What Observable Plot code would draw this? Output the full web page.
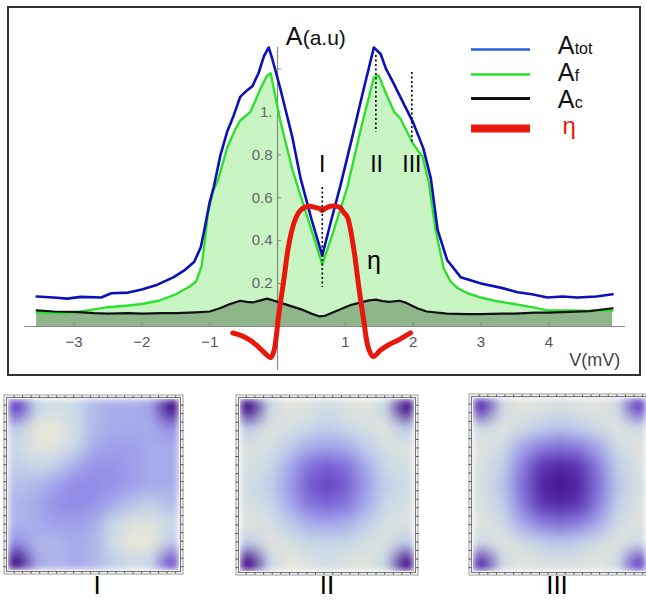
<!DOCTYPE html>
<html><head><meta charset="utf-8">
<script src="https://cdn.jsdelivr.net/npm/d3@7"></script>
<script src="https://cdn.jsdelivr.net/npm/@observablehq/plot@0.6"></script>
<style>
body{margin:0;background:#fff;}
#root{position:relative;width:646px;height:601px;overflow:hidden;font-family:"Liberation Sans",Arial,sans-serif;background:#fff;}
#box{position:absolute;left:7px;top:6px;width:634px;height:370px;border:2px solid #333;box-sizing:border-box;}
.abs{position:absolute;}
.lbl{position:absolute;font-size:26px;line-height:24px;height:24px;color:#000;transform:translateX(-50%);white-space:nowrap;}
</style></head><body><div id="root"><div id="box"></div></div>
<script>
// ---------- Top chart data ----------
const vTot = [-3.55,-3.3,-3.1,-2.9,-2.6,-2.45,-2.2,-2.0,-1.77,-1.53,-1.38,-1.23,-1.13,-1.06,-1.0,-0.94,-0.84,-0.74,-0.65,-0.55,-0.45,-0.37,-0.28,-0.2,-0.13,-0.08,0.04,0.22,0.34,0.5,0.66,0.78,0.93,1.1,1.25,1.42,1.52,1.6,1.7,1.81,2.0,2.15,2.26,2.36,2.5,2.7,3.0,3.3,3.54,3.75,3.98,4.2,4.42,4.7,4.94];
const aTot = [0.14,0.135,0.13,0.138,0.135,0.155,0.158,0.172,0.195,0.23,0.26,0.30,0.37,0.48,0.58,0.65,0.8,0.91,0.98,1.07,1.10,1.12,1.18,1.26,1.30,1.25,1.11,0.88,0.69,0.50,0.33,0.48,0.66,0.88,1.08,1.30,1.27,1.20,1.14,1.07,0.95,0.83,0.69,0.45,0.31,0.23,0.20,0.18,0.16,0.15,0.135,0.14,0.135,0.14,0.15];

const vF = [-3.55,-3.2,-3.0,-2.8,-2.5,-2.2,-2.0,-1.75,-1.5,-1.3,-1.2,-1.12,-1.07,-1.03,-0.95,-0.87,-0.74,-0.62,-0.55,-0.4,-0.33,-0.25,-0.15,-0.1,-0.05,0.04,0.22,0.4,0.55,0.66,0.8,1.03,1.22,1.42,1.49,1.62,1.72,1.81,2.0,2.14,2.23,2.33,2.45,2.55,2.65,2.8,3.0,3.2,3.48,3.75,3.98,4.3,4.6,4.94];
const aF = [0.065,0.063,0.065,0.075,0.09,0.098,0.105,0.12,0.15,0.185,0.21,0.28,0.40,0.52,0.63,0.69,0.835,0.92,0.96,1.00,1.05,1.11,1.17,1.18,1.10,0.96,0.73,0.55,0.40,0.29,0.42,0.65,0.91,1.16,1.17,1.07,1.00,0.97,0.85,0.79,0.67,0.45,0.27,0.21,0.18,0.155,0.135,0.12,0.105,0.09,0.075,0.075,0.072,0.075];

const vC = [-3.55,-3.3,-3.0,-2.7,-2.5,-2.2,-2.0,-1.7,-1.5,-1.2,-1.0,-0.85,-0.7,-0.55,-0.45,-0.37,-0.25,-0.15,-0.05,0.05,0.2,0.35,0.5,0.62,0.7,0.85,1.0,1.08,1.2,1.35,1.45,1.55,1.65,1.8,1.9,2.06,2.2,2.5,2.8,3.0,3.3,3.5,3.8,4.0,4.3,4.6,4.94];
const aC = [0.075,0.07,0.068,0.062,0.06,0.062,0.06,0.062,0.062,0.066,0.07,0.085,0.105,0.12,0.115,0.112,0.122,0.13,0.12,0.11,0.095,0.08,0.06,0.047,0.05,0.07,0.09,0.10,0.11,0.122,0.125,0.118,0.115,0.12,0.11,0.085,0.07,0.06,0.058,0.058,0.06,0.06,0.065,0.065,0.068,0.072,0.085];

const vEta = [-0.66,-0.55,-0.4,-0.3,-0.2,-0.1,-0.05,-0.02,0.02,0.09,0.16,0.24,0.32,0.4,0.48,0.55,0.62,0.66,0.7,0.78,0.86,0.92,0.98,1.03,1.12,1.2,1.27,1.34,1.41,1.52,1.64,1.77,1.88,1.96];
const eta  = [-0.03,-0.04,-0.065,-0.09,-0.12,-0.145,-0.11,-0.05,0.06,0.21,0.37,0.48,0.535,0.555,0.56,0.555,0.55,0.54,0.55,0.56,0.56,0.555,0.53,0.51,0.37,0.18,0.03,-0.10,-0.14,-0.11,-0.085,-0.065,-0.045,-0.03];

const xTicks = [-3,-2,-1,1,2,3,4];
const xTickLabels = ["\u22123","\u22122","\u22121","1","2","3","4"];
const yTicks = [0.2,0.4,0.6,0.8,1.0,1.2];
const yTickLabels = ["0.2","0.4","0.6","0.8","1.",""];

const markerV = [0.66,1.45,1.98];
const markerTop = [0.648,1.263,1.184];
const markerBottom = [0.182,0.904,0.853];
const romanLabels = ["I","II","III"];
const romanV = [0.66,1.46,1.98];

const legendMain = ["A","A","A","\u03b7"];
const legendSub = ["tot","f","c",""];
const legendColors = ["#1f5fe0","#2ee02e","#111111","#e8170c"];
const legendWidths = [2.5,2.5,3,8];
const legendLineA = [1.291,1.174,1.062,0.923];
const legendTextA = [1.272,1.146,1.020,0.899];

// ---------- Heatmap data (9x9, rows top -> bottom) ----------
const gridN = 9;
const panelI = [
 0.85,0.30,0.20,0.30,0.45,0.50,0.50,0.55,1.00,
 0.35,0.05,0.05,0.25,0.45,0.52,0.52,0.52,0.62,
 0.30,0.10,0.12,0.30,0.52,0.57,0.57,0.52,0.52,
 0.35,0.30,0.35,0.52,0.62,0.62,0.57,0.52,0.52,
 0.42,0.47,0.57,0.64,0.64,0.62,0.57,0.52,0.52,
 0.47,0.52,0.62,0.64,0.62,0.52,0.40,0.35,0.42,
 0.47,0.52,0.57,0.57,0.52,0.30,0.15,0.12,0.30,
 0.62,0.47,0.47,0.52,0.47,0.25,0.05,0.05,0.35,
 1.00,0.52,0.47,0.52,0.47,0.35,0.25,0.30,0.80];
const panelII = [
 1.00,0.30,0.10,0.15,0.25,0.15,0.10,0.30,1.00,
 0.35,0.12,0.20,0.30,0.35,0.30,0.20,0.12,0.35,
 0.15,0.20,0.35,0.52,0.57,0.52,0.35,0.20,0.15,
 0.20,0.30,0.52,0.72,0.78,0.72,0.52,0.30,0.20,
 0.25,0.35,0.57,0.78,0.87,0.78,0.57,0.35,0.25,
 0.20,0.30,0.52,0.70,0.75,0.70,0.52,0.30,0.20,
 0.12,0.20,0.35,0.50,0.54,0.50,0.35,0.20,0.15,
 0.35,0.10,0.20,0.30,0.32,0.30,0.20,0.15,0.35,
 1.00,0.30,0.05,0.15,0.25,0.15,0.10,0.30,1.00];
const panelIII = [
 0.90,0.25,0.10,0.15,0.20,0.15,0.10,0.25,0.85,
 0.25,0.12,0.25,0.35,0.40,0.35,0.25,0.12,0.25,
 0.12,0.25,0.52,0.68,0.72,0.68,0.52,0.25,0.12,
 0.18,0.35,0.68,0.90,0.94,0.90,0.68,0.35,0.18,
 0.20,0.40,0.72,0.94,1.00,0.94,0.72,0.40,0.20,
 0.18,0.35,0.68,0.90,0.94,0.90,0.68,0.35,0.18,
 0.12,0.25,0.52,0.68,0.72,0.68,0.52,0.25,0.12,
 0.25,0.12,0.25,0.35,0.40,0.35,0.25,0.12,0.25,
 0.90,0.25,0.10,0.15,0.20,0.15,0.10,0.25,0.85];
const heatDomain = [0,0.3,0.6,0.85,1];
const heatColors = ["#f0e8d6","#c8dae8","#9b98ec","#6a48c8","#46148e"];

const rootEl = document.getElementById("root");
const fontFam = '"Liberation Sans", Arial, sans-serif';

const tot = vTot.map((v,i)=>({v, a:aTot[i]}));
const fD = vF.map((v,i)=>({v, a:aF[i]}));
const cD = vC.map((v,i)=>({v, a:aC[i]}));
const eD = vEta.map((v,i)=>({v, a:eta[i]}));
const markers = markerV.map((v,i)=>({v, y1:markerTop[i], y2:markerBottom[i]}));
const legend = legendMain.map((t,i)=>({t, s:legendSub[i], c:legendColors[i], w:legendWidths[i], ly:legendLineA[i], ty:legendTextA[i]}));

const topChart = Plot.plot({
  width: 646, height: 385,
  marginLeft: 24, marginRight: 21, marginTop: 47, marginBottom: 15,
  x: {domain: [-3.73, 5.13], axis: null},
  y: {domain: [-0.205, 1.30], axis: null},
  style: {background: "transparent", fontFamily: fontFam, overflow: "visible"},
  marks: [
    Plot.areaY(fD, {x: "v", y: "a", fill: "#c9f5c5"}),
    Plot.areaY(cD, {x: "v", y: "a", fill: "#8fb58b"}),
    Plot.ruleY([0], {x1: -3.73, x2: 5.13, stroke: "#888", strokeWidth: 1.2}),
    Plot.ruleX([0], {y1: -0.205, y2: 1.30, stroke: "#888", strokeWidth: 1.2}),
    Plot.ruleX(xTicks, {x: d => d, y1: 0, y2: 0.016, stroke: "#888"}),
    Plot.ruleY(yTicks, {y: d => d, x1: 0, x2: 0.06, stroke: "#888"}),
    Plot.text(xTicks, {x: d => d, y: 0, dy: 16, text: (d,i) => xTickLabels[i], fill: "#555", fontSize: 15, lineAnchor: "middle"}),
    Plot.text(yTicks, {x: 0, y: d => d, dx: -5, text: (d,i) => yTickLabels[i], fill: "#666", fontSize: 15, textAnchor: "end", lineAnchor: "middle"}),
    Plot.line(fD, {x: "v", y: "a", stroke: "#2ee02e", strokeWidth: 2.4}),
    Plot.line(tot, {x: "v", y: "a", stroke: "#0c10b8", strokeWidth: 2.6}),
    Plot.line(cD, {x: "v", y: "a", stroke: "#111", strokeWidth: 2.2}),
    Plot.line(eD, {x: "v", y: "a", stroke: "#e8170c", strokeWidth: 5, curve: "catmull-rom"}),
    Plot.ruleX(markers, {x: "v", y1: "y1", y2: "y2", stroke: "#000", strokeWidth: 1.6, strokeDasharray: "2,2.5"}),
    Plot.text(romanLabels, {x: (d,i) => romanV[i], y: 0.72, text: d => d, fontSize: 23, fill: "#000", lineAnchor: "bottom"}),
    Plot.text(["\u03b7"], {x: 1.42, y: 0.27, text: d => d, fontSize: 25, fill: "#000", lineAnchor: "bottom"}),
    Plot.text(["A"], {x: 0.12, y: 1.31, text: d => d, fontSize: 25, fill: "#111", textAnchor: "start", lineAnchor: "bottom"}),
    Plot.text(["(a.u)"], {x: 0.12, y: 1.31, dx: 17, text: d => d, fontSize: 21, fill: "#111", textAnchor: "start", lineAnchor: "bottom"}),
    Plot.text(["V(mV)"], {x: 4.3, y: -0.186, text: d => d, fontSize: 18, fill: "#444", textAnchor: "start", lineAnchor: "bottom"}),
    ...legend.map(d => Plot.ruleY([d.ly], {x1: 2.86, x2: 3.73, stroke: d.c, strokeWidth: d.w})),
    ...legend.map(d => Plot.text([d.t], {x: d.t === "\u03b7" ? 4.2 : 4.13, y: d.ty, text: t => t, fontSize: d.t === "\u03b7" ? 24 : 25, fill: d.t === "\u03b7" ? d.c : "#111", textAnchor: "start", lineAnchor: "bottom"})),
    ...legend.filter(d => d.s).map(d => Plot.text([d.s], {x: 4.13, y: d.ty, dx: 17, text: t => t, fontSize: 16, fill: "#111", textAnchor: "start", lineAnchor: "bottom"}))
  ]
});
topChart.classList.add("abs");
topChart.style.left = "0px"; topChart.style.top = "0px";
rootEl.appendChild(topChart);

// ---------- Heatmap panels ----------
const panels = [
  {vals: panelI, left: 6, top: 397, w: 174, h: 174, label: "I", cx: 97},
  {vals: panelII, left: 238, top: 397, w: 177, h: 175, label: "II", cx: 327},
  {vals: panelIII, left: 471, top: 396, w: 176, h: 176, label: "III", cx: 557}
];
const frameTicks = d3.range(0.3, 9, 0.45);
const svgNS = "http://www.w3.org/2000/svg";
panels.forEach((p, k) => {
  const m = 4;
  const svg = Plot.plot({
    width: p.w + 2*m, height: p.h + 2*m,
    margin: m,
    x: {domain: [0, gridN], inset: 2, axis: null},
    y: {domain: [0, gridN], inset: 2, axis: null, reverse: true},
    color: {type: "linear", domain: heatDomain, range: heatColors},
    style: {background: "transparent"},
    marks: [
      Plot.raster(p.vals, {width: gridN, height: gridN}),
      Plot.frame({stroke: "#777", strokeWidth: 1.2}),
      Plot.frame({stroke: "#999", strokeWidth: 1, inset: -2.5}),
      Plot.axisX({anchor: "top", ticks: frameTicks, tickSize: 2.5, tickFormat: () => "", stroke: "#555"}),
      Plot.axisX({anchor: "bottom", ticks: frameTicks, tickSize: 2.5, tickFormat: () => "", stroke: "#555"}),
      Plot.axisY({anchor: "left", ticks: frameTicks, tickSize: 2.5, tickFormat: () => "", stroke: "#555"}),
      Plot.axisY({anchor: "right", ticks: frameTicks, tickSize: 2.5, tickFormat: () => "", stroke: "#555"})
    ]
  });
  // soften the raster with an edge-preserving gaussian blur
  const defs = document.createElementNS(svgNS, "defs");
  const filt = document.createElementNS(svgNS, "filter");
  filt.setAttribute("id", "heatblur" + k);
  filt.setAttribute("x", "0"); filt.setAttribute("y", "0");
  filt.setAttribute("width", "1"); filt.setAttribute("height", "1");
  const gb = document.createElementNS(svgNS, "feGaussianBlur");
  gb.setAttribute("stdDeviation", "3.5");
  gb.setAttribute("edgeMode", "duplicate");
  filt.appendChild(gb); defs.appendChild(filt);
  svg.insertBefore(defs, svg.firstChild);
  const img = svg.querySelector("image");
  if (img) img.setAttribute("filter", "url(#heatblur" + k + ")");
  svg.classList.add("abs");
  svg.style.left = (p.left - m) + "px";
  svg.style.top = (p.top - m) + "px";
  rootEl.appendChild(svg);
  const lbl = document.createElement("div");
  lbl.className = "lbl";
  lbl.textContent = p.label;
  lbl.style.left = p.cx + "px";
  lbl.style.top = "573px";
  rootEl.appendChild(lbl);
});
</script></body></html>
